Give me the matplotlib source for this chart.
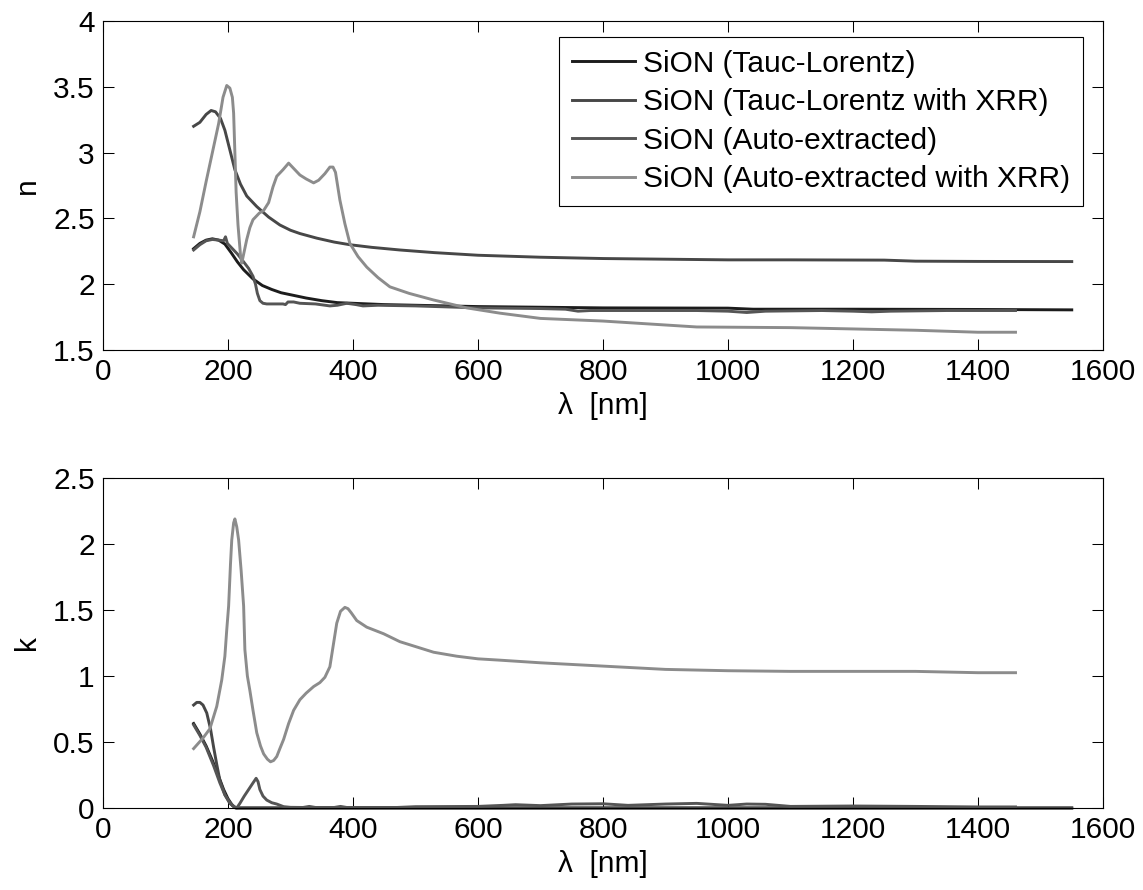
import matplotlib
matplotlib.use("Agg")
import matplotlib.pyplot as plt

plt.rcParams['font.family'] = ['Liberation Sans', 'DejaVu Sans']

labels = ["SiON (Tauc-Lorentz)", "SiON (Tauc-Lorentz with XRR)",
          "SiON (Auto-extracted)", "SiON (Auto-extracted with XRR)"]
colors = ['#1c1c1c', '#474747', '#555555', '#8c8c8c']

# refractive index n
lam_n_tl = [145, 155, 165, 175, 185, 195, 205, 215, 225, 240, 255, 270, 285, 300, 325, 350, 375, 400,
            450, 500, 600, 700, 800, 1000, 1040, 1200, 1400, 1550]
n_tl = [2.27, 2.31, 2.335, 2.345, 2.335, 2.305, 2.24, 2.17, 2.11, 2.04, 1.99, 1.96, 1.935, 1.92, 1.895, 1.875,
        1.86, 1.855, 1.845, 1.84, 1.83, 1.825, 1.82, 1.818, 1.81, 1.81, 1.808, 1.805]

lam_n_tlx = [145, 155, 165, 173, 180, 188, 195, 203, 211, 220, 230, 246, 265, 283, 300, 315, 342, 370, 395,
             430, 475, 530, 600, 700, 800, 900, 1000, 1100, 1250, 1300, 1400, 1550]
n_tlx = [3.20, 3.23, 3.29, 3.32, 3.31, 3.26, 3.17, 3.02, 2.87, 2.76, 2.67, 2.59, 2.51, 2.45, 2.41, 2.385, 2.35,
         2.32, 2.30, 2.28, 2.26, 2.24, 2.22, 2.205, 2.195, 2.19, 2.185, 2.185, 2.183, 2.175, 2.173, 2.172]

lam_n_auto = [145, 155, 165, 175, 185, 193, 196, 199, 205, 215, 225, 233, 240, 244, 247, 251, 256, 262, 275,
              288, 292, 296, 305, 315, 340, 363, 375, 390, 405, 416, 440, 500, 600, 700, 740, 760, 780, 850,
              950, 1000, 1030, 1060, 1150, 1200, 1230, 1260, 1350, 1460]
n_auto = [2.26, 2.30, 2.33, 2.34, 2.335, 2.33, 2.36, 2.31, 2.28, 2.23, 2.17, 2.12, 2.06, 2.00, 1.93, 1.875,
          1.855, 1.85, 1.85, 1.85, 1.845, 1.865, 1.865, 1.855, 1.85, 1.835, 1.84, 1.855, 1.845, 1.835, 1.84,
          1.835, 1.82, 1.815, 1.81, 1.795, 1.80, 1.80, 1.80, 1.795, 1.785, 1.795, 1.80, 1.795, 1.79, 1.795,
          1.80, 1.80]

lam_n_autox = [145, 155, 165, 175, 185, 192, 198, 203, 207, 209, 211, 213, 216, 220, 222, 226, 230, 235, 240,
               250, 257, 265, 272, 278, 288, 297, 305, 315, 325, 337, 345, 355, 363, 368, 372, 379, 387, 395,
               408, 422, 440, 459, 490, 529, 582, 635, 700, 800, 900, 950, 1100, 1200, 1300, 1400, 1460]
n_autox = [2.36, 2.55, 2.78, 3.00, 3.22, 3.42, 3.51, 3.49, 3.42, 3.30, 3.00, 2.70, 2.45, 2.22, 2.16, 2.25,
           2.34, 2.43, 2.49, 2.54, 2.56, 2.62, 2.74, 2.82, 2.87, 2.92, 2.88, 2.83, 2.80, 2.77, 2.79, 2.84, 2.89,
           2.89, 2.85, 2.64, 2.46, 2.31, 2.21, 2.13, 2.05, 1.98, 1.93, 1.88, 1.82, 1.78, 1.74, 1.72, 1.69,
           1.675, 1.67, 1.66, 1.65, 1.635, 1.635]

# extinction coefficient k
lam_k_tl = [145, 155, 165, 175, 185, 193, 200, 207, 212, 400, 800, 1200, 1550]
k_tl = [0.64, 0.56, 0.47, 0.36, 0.24, 0.14, 0.07, 0.02, 0.0, 0.0, 0.0, 0.0, 0.0]

lam_k_tlx = [145, 150, 155, 160, 166, 172, 177, 182, 187, 195, 203, 210, 214, 400, 800, 1200, 1550]
k_tlx = [0.78, 0.80, 0.80, 0.78, 0.72, 0.60, 0.46, 0.33, 0.21, 0.10, 0.035, 0.008, 0.0, 0.0, 0.0, 0.0, 0.0]

lam_k_auto = [145, 155, 165, 177, 187, 195, 203, 210, 214, 219, 226, 233, 240, 245, 248, 251, 256, 262, 270,
              278, 289, 300, 320, 330, 340, 370, 380, 390, 470, 500, 600, 640, 660, 700, 750, 800, 840, 900,
              950, 1000, 1030, 1060, 1100, 1200, 1300, 1400, 1460]
k_auto = [0.63, 0.55, 0.46, 0.32, 0.19, 0.10, 0.04, 0.01, 0.0, 0.035, 0.09, 0.14, 0.19, 0.225, 0.20, 0.14,
          0.09, 0.06, 0.04, 0.03, 0.01, 0.005, 0.004, 0.012, 0.004, 0.004, 0.012, 0.004, 0.004, 0.01, 0.012,
          0.02, 0.025, 0.018, 0.03, 0.032, 0.02, 0.03, 0.035, 0.02, 0.03, 0.028, 0.012, 0.015, 0.012, 0.008,
          0.008]

lam_k_autox = [145, 160, 171, 182, 190, 195, 198, 201, 204, 206, 209, 211, 214, 217, 221, 225, 227, 231, 235,
               240, 246, 252, 257, 263, 268, 273, 278, 283, 289, 297, 305, 315, 325, 337, 347, 355, 363, 368,
               374, 380, 387, 392, 397, 406, 422, 449, 475, 502, 529, 566, 600, 635, 700, 800, 900, 1000, 1100,
               1200, 1300, 1400, 1460]
k_autox = [0.45, 0.53, 0.60, 0.77, 0.97, 1.15, 1.35, 1.53, 1.85, 2.03, 2.16, 2.19, 2.13, 2.03, 1.80, 1.53,
           1.20, 1.00, 0.89, 0.74, 0.57, 0.47, 0.41, 0.37, 0.35, 0.36, 0.39, 0.45, 0.52, 0.64, 0.74, 0.82, 0.87,
           0.92, 0.95, 0.99, 1.07, 1.22, 1.40, 1.49, 1.52, 1.51, 1.48, 1.42, 1.37, 1.32, 1.26, 1.22, 1.18, 1.15,
           1.13, 1.12, 1.10, 1.075, 1.05, 1.04, 1.035, 1.035, 1.035, 1.025, 1.025]

x_ticks = [0, 200, 400, 600, 800, 1000, 1200, 1400, 1600]
n_ticks = [1.5, 2, 2.5, 3, 3.5, 4]
k_ticks = [0, 0.5, 1, 1.5, 2, 2.5]

FS = 21.5
W, H = 1143, 890


def styleAxes(ax, yticks, ylabel):
    ax.set_xlim(0, 1600)
    ax.set_ylim(yticks[0], yticks[-1])
    ax.set_xticks(x_ticks)
    ax.set_xticklabels([str(t) for t in x_ticks])
    ax.set_yticks(yticks)
    ax.set_yticklabels([('%g' % t) for t in yticks])
    ax.tick_params(direction='in', top=True, right=True, length=8, width=0.75,
                   labelsize=FS, pad=6, colors='k')
    for s in ax.spines.values():
        s.set_linewidth(0.8)
    ax.set_xlabel(u"\u03bb  [nm]", fontsize=FS, labelpad=4)
    ax.set_ylabel(ylabel, fontsize=FS, labelpad=9)


fig = plt.figure(figsize=(W / 100, H / 100), dpi=100)
ax1 = fig.add_axes([103 / W, 1 - 350 / H, 1000 / W, 329 / H])
ax2 = fig.add_axes([103 / W, 1 - 808 / H, 1000 / W, 330 / H])

n_series = [(lam_n_tl, n_tl), (lam_n_tlx, n_tlx), (lam_n_auto, n_auto), (lam_n_autox, n_autox)]
k_series = [(lam_k_tl, k_tl), (lam_k_tlx, k_tlx), (lam_k_auto, k_auto), (lam_k_autox, k_autox)]

for (x, y), c, lab in zip(n_series, colors, labels):
    ax1.plot(x, y, color=c, lw=2.1, label=lab)
for (x, y), c in zip(k_series, colors):
    ax2.plot(x, y, color=c, lw=2.1, clip_on=False)

styleAxes(ax1, n_ticks, "n")
styleAxes(ax2, k_ticks, "k")

leg = ax1.legend(loc='upper right', bbox_to_anchor=(0.98, 0.951), borderaxespad=0, fontsize=FS,
                 fancybox=False, framealpha=1, edgecolor='k', handlelength=2.13, handletextpad=0.27,
                 labelspacing=0.35, borderpad=0.42)
leg.get_frame().set_linewidth(0.8)

fig.savefig("out.png", dpi=100)
